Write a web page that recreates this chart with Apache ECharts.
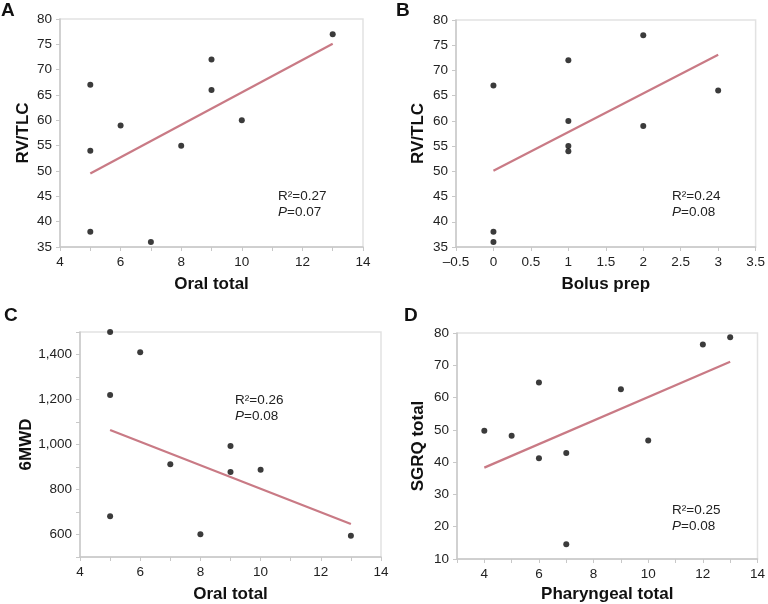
<!DOCTYPE html>
<html><head><meta charset="utf-8">
<script src="https://cdn.jsdelivr.net/npm/echarts@6/dist/echarts.min.js"></script>
<style>html,body{margin:0;padding:0;background:#fff}#c{width:768px;height:604px}</style>
</head><body><div id="c"></div>
<script>
// Panel A: Oral total vs RV/TLC
const ptsA = [[5,67],[5,54],[5,38],[6,59],[7,36],[8,55],[9,72],[9,66],[10,60],[13,77]];
const fitA = [[5,49.5],[13,75.1]];
// Panel B: Bolus prep vs RV/TLC
const ptsB = [[0,67],[0,38],[0,36],[1,72],[1,60],[1,55],[1,54],[2,77],[2,59],[3,66]];
const fitB = [[0,50.1],[3,73.1]];
// Panel C: Oral total vs 6MWD
const ptsC = [[5,1500],[5,1220],[5,681],[6,1410],[7,912],[8,601],[9,993],[9,878],[10,888],[13,594]];
const fitC = [[5,1064],[13,647]];
// Panel D: Pharyngeal total vs SGRQ total
const ptsD = [[4,49.7],[5,48.2],[6,64.7],[6,41.2],[7,42.8],[7,14.6],[9,62.6],[10,46.7],[12,76.4],[13,78.7]];
const fitD = [[4,38.3],[13,71.1]];
const stats = [["0.27","0.07"],["0.24","0.08"],["0.26","0.08"],["0.25","0.08"]];
const letters = ["A","B","C","D"];

const FONT = "Liberation Sans, Arial, sans-serif";
const axisCol = '#c8c8c8';
const lbl = {fontFamily: FONT, fontSize: 13.5, color: '#222', margin: 8};
const nameStyle = {fontFamily: FONT, fontSize: 17, fontWeight: 'bold', color: '#111'};

function xAx(idx, min, max, interval, name, fmt, gap) {
  return {type:'value', gridIndex: idx, min, max, interval, name, nameLocation:'middle', nameGap: gap,
    nameTextStyle: nameStyle,
    axisLine:{show:true, onZero:false, lineStyle:{color:axisCol, width:1.5}},
    axisTick:{show:true, length:4, lineStyle:{color:axisCol}},
    axisLabel:Object.assign({}, lbl, {formatter: fmt}),
    splitLine:{show:false}};
}
function yAx(idx, min, max, interval, name, fmt, gap) {
  return {type:'value', gridIndex: idx, min, max, interval, name, nameLocation:'middle', nameGap: gap,
    nameRotate: 90, nameTextStyle: nameStyle,
    axisLine:{show:true, onZero:false, lineStyle:{color:axisCol, width:1.5}},
    axisTick:{show:true, length:4, lineStyle:{color:axisCol}},
    axisLabel:Object.assign({}, lbl, {formatter: fmt}),
    splitLine:{show:false}};
}
const evenOnly = v => (Math.round(v) % 2 === 0 ? String(v) : '');
const dashNeg = v => (v < 0 ? '\u2013' + Math.abs(v) : String(v));
const thousands = v => ((v % 200 === 0 && v > 500 && v < 1500) ? v.toLocaleString('en-US') : '');

const grids = [
  {left:60, top:19, width:303, height:228},
  {left:456, top:20, width:303, height:227},
  {left:80, top:332, width:301, height:227},
  {left:457, top:333, width:303, height:226}
].map(g => Object.assign(g, {show:true, borderColor:'#e2e2e2', borderWidth:1.5, backgroundColor:'#fff'}));

const xAxes = [
  xAx(0, 4, 14, 1, 'Oral total', evenOnly, 29),
  xAx(1, -0.5, 3.5, 0.5, 'Bolus prep', dashNeg, 29),
  xAx(2, 4, 14, 1, 'Oral total', evenOnly, 29),
  xAx(3, 3, 14, 1, 'Pharyngeal total', evenOnly, 27)
];
const yAxes = [
  yAx(0, 35, 80, 5, 'RV/TLC', v => String(v), 28),
  yAx(1, 35, 80, 5, 'RV/TLC', v => String(v), 29),
  yAx(2, 500, 1500, 100, '6MWD', thousands, 45),
  yAx(3, 10, 80, 10, 'SGRQ total', v => String(v), 30)
];

const pts = [ptsA, ptsB, ptsC, ptsD];
const fits = [fitA, fitB, fitC, fitD];
const series = [];
for (let i = 0; i < 4; i++) {
  series.push({type:'line', xAxisIndex:i, yAxisIndex:i, data: fits[i], symbol:'none',
    lineStyle:{color:'#c97a85', width:2.2}, silent:true, z:2});
  series.push({type:'scatter', xAxisIndex:i, yAxisIndex:i, data: pts[i], symbolSize:6,
    itemStyle:{color:'#0a0a0a'}, z:3});
}

const statPos = [[278,189],[672,189],[235,393],[672,503]];
const letterPos = [[1,1],[396,1],[4,306],[404,306]];
const graphic = [];
for (let i = 0; i < 4; i++) {
  graphic.push({type:'text', left: letterPos[i][0], top: letterPos[i][1],
    style:{text: letters[i], font: 'bold 19px ' + FONT, fill:'#111'}});
  graphic.push({type:'text', left: statPos[i][0], top: statPos[i][1],
    style:{text: '{n|R\u00b2=' + stats[i][0] + '}\n{i|P}{n|=' + stats[i][1] + '}',
      rich:{n:{font:'13.5px ' + FONT, fill:'#222', lineHeight:16},
            i:{font:'italic 13.5px ' + FONT, fill:'#222', lineHeight:16}}}});
}

const chart = echarts.init(document.getElementById('c'), null, {renderer:'canvas'});
chart.setOption({animation:false, grid: grids, xAxis: xAxes, yAxis: yAxes, series, graphic});
</script></body></html>
